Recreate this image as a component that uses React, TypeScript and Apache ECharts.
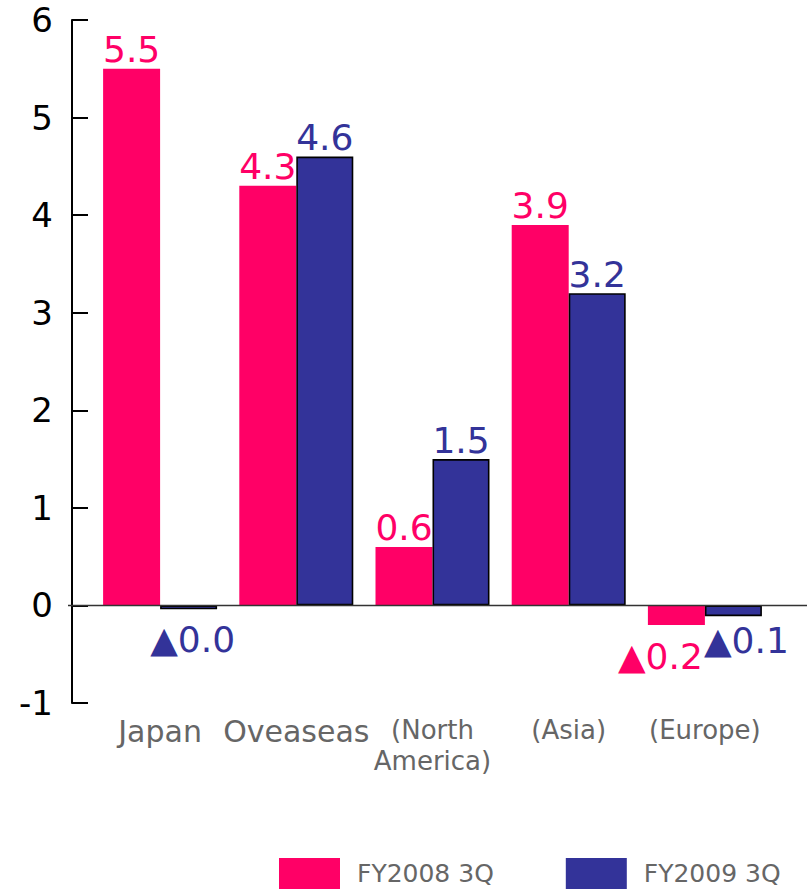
import React, { useEffect, useRef } from "react";
import * as echarts from "echarts";

// Regional results, FY2008 3Q vs FY2009 3Q
const categories = ["Japan", "Oveaseas", "(North\nAmerica)", "(Asia)", "(Europe)"];
const fy2008 = [5.5, 4.3, 0.6, 3.9, -0.2];
const fy2009 = [-0.04, 4.6, 1.5, 3.2, -0.11];
const yTicks = { min: -1, max: 6, interval: 1 };
const seriesNames = ["FY2008 3Q", "FY2009 3Q"];

const PINK = "#FF0066";
const BLUE = "#333399";
const FONT = "DejaVu Sans";

// label nudges for the negative bars so the labels don't collide
const negNudge2008: Record<number, { dist: number; dx: number }> = {
  4: { dist: 14, dx: -16 },
};
const negNudge2009: Record<number, { dist: number; dx: number }> = {
  0: { dist: 12, dx: 4 },
  4: { dist: 6, dx: 13 },
};

const fmt = (v: number) => (v < 0 ? "▲" + Math.abs(v).toFixed(1) : v.toFixed(1));

function buildData(values: number[], nudges: Record<number, { dist: number; dx: number }>) {
  return values.map((v, i) => {
    if (v >= 0) return { value: v };
    const n = nudges[i] || { dist: 8, dx: 0 };
    return {
      value: v,
      label: { position: "bottom", distance: n.dist, offset: [n.dx, 0] },
    };
  });
}

export default function App() {
  const ref = useRef<HTMLDivElement>(null);

  useEffect(() => {
    if (!ref.current) return;
    const chart = echarts.init(ref.current, null, { renderer: "svg" });

    const labelBase = {
      show: true,
      position: "top",
      distance: 1,
      fontFamily: FONT,
      fontSize: 36,
      formatter: (p: any) => fmt(p.value),
    };

    chart.setOption({
      animation: false,
      backgroundColor: "#ffffff",
      textStyle: { fontFamily: FONT },
      grid: { left: 92, right: 34, top: 20, bottom: 187, containLabel: false },
      legend: {
        data: seriesNames,
        left: 279,
        top: 858,
        padding: 0,
        icon: "rect",
        itemWidth: 61,
        itemHeight: 31,
        itemGap: 72,
        itemStyle: { borderWidth: 0 },
        textStyle: {
          fontFamily: FONT,
          fontSize: 25,
          lineHeight: 26,
          color: "#666666",
          padding: [0, 0, 0, 12],
        },
      },
      xAxis: {
        type: "category",
        data: categories,
        axisLine: { show: false, onZero: false },
        axisTick: { show: false },
        axisLabel: {
          margin: 11,
          interval: 0,
          formatter: (v: string, i: number) =>
            i < 2
              ? `{big|${v}}`
              : v
                  .split("\n")
                  .map((s) => `{small|${s}}`)
                  .join("\n"),
          rich: {
            big: { fontFamily: FONT, fontSize: 30, lineHeight: 34, color: "#666666" },
            small: { fontFamily: FONT, fontSize: 26, lineHeight: 31, color: "#666666" },
          },
        },
      },
      yAxis: {
        type: "value",
        min: yTicks.min,
        max: yTicks.max,
        interval: yTicks.interval,
        offset: 20,
        axisLine: { show: true, lineStyle: { color: "#000", width: 2 } },
        axisTick: { show: true, inside: true, length: 16, lineStyle: { color: "#000", width: 2 } },
        splitLine: { show: false },
        axisLabel: { fontFamily: FONT, fontSize: 34, color: "#000", margin: 19 },
      },
      series: [
        {
          name: seriesNames[0],
          type: "bar",
          barWidth: 57,
          barGap: "0%",
          itemStyle: { color: PINK },
          label: { ...labelBase, color: PINK },
          data: buildData(fy2008, negNudge2008),
        },
        {
          name: seriesNames[1],
          type: "bar",
          barWidth: 57,
          barGap: "0%",
          itemStyle: { color: BLUE, borderColor: "#000", borderWidth: 1.6 },
          label: { ...labelBase, color: BLUE },
          data: buildData(fy2009, negNudge2009),
        },
      ],
    });

    // zero baseline running across the full width
    const y0 = chart.convertToPixel({ yAxisIndex: 0 }, 0) as number;
    chart.setOption({
      graphic: [
        {
          type: "line",
          z: 10,
          shape: { x1: 68, y1: y0, x2: 807, y2: y0 },
          style: { stroke: "#333333", lineWidth: 1.5 },
        },
      ],
    });

    return () => chart.dispose();
  }, []);

  return <div ref={ref} style={{ width: 807, height: 890, position: "absolute", left: 0, top: 0 }} />;
}
